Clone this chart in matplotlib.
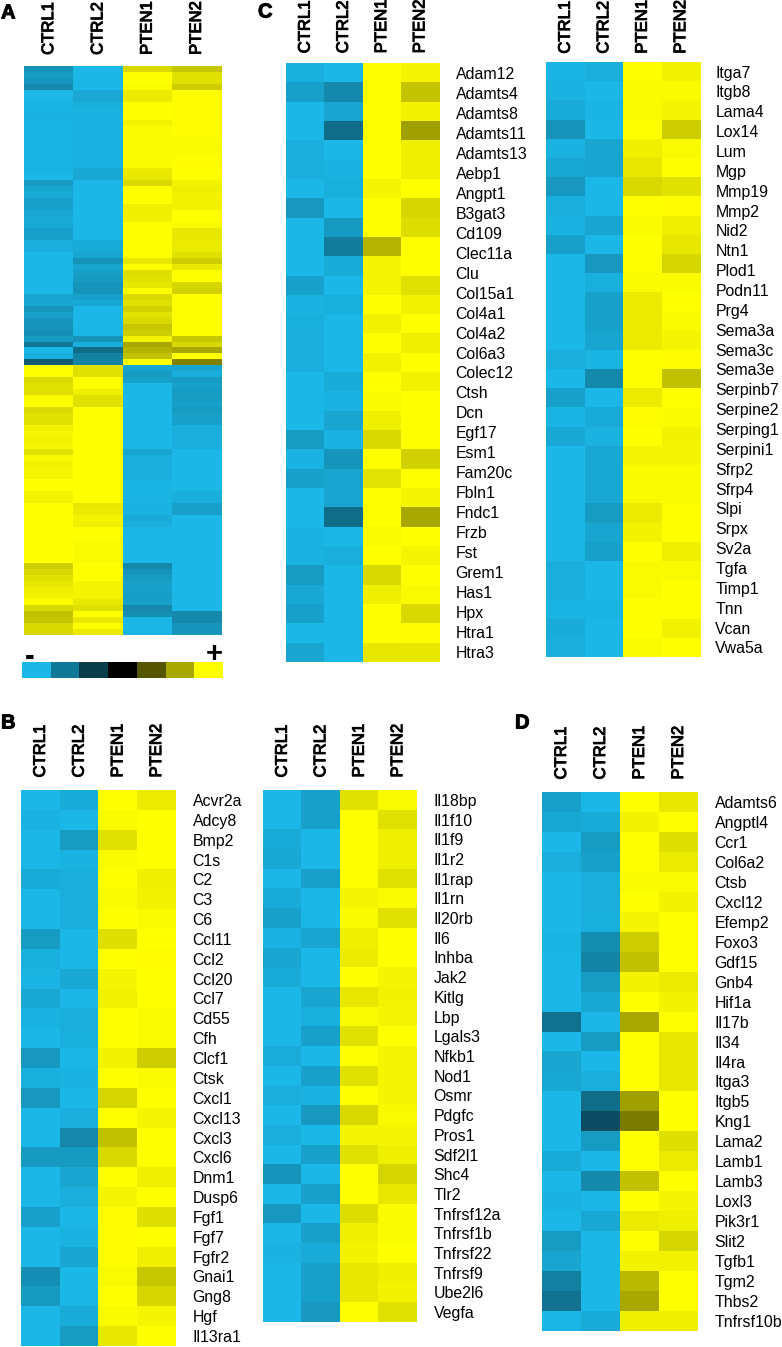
import numpy as np
import matplotlib
matplotlib.use('Agg')
import matplotlib.pyplot as plt
import matplotlib.patheffects as pe
from matplotlib.colors import LinearSegmentedColormap

plt.rcParams['font.family'] = ['Liberation Sans', 'DejaVu Sans']

samples = ['CTRL1', 'CTRL2', 'PTEN1', 'PTEN2']

# Panel A, colour strength per band, top to bottom. 50 first bands are up in PTEN, the rest are down
a_ctrl1 = [.8,.85,.82,.75,1,1,.98,.98,.97,.98,.98,.98,.98,.98,.98,.98,.98,.98,1,.85,.9,.93,.88,.88,.92,.93,.92,.87,.87,.95,.95,1,1,1,1,1,1,1,.9,.9,.82,.87,.82,.8,.78,.85,.65,1,.95,.5,
           1,1,.85,.88,.87,.98,1,.85,.88,.88,.95,.96,.94,.96,.88,.97,.95,.96,.96,1,1,.95,.95,1,1,1,1,1,1,1,1,1,1,.8,.85,.88,.9,.93,.95,1,.85,.75,.78,.85,.85]
a_ctrl2 = [1,1,1,1,.92,.92,.96,.97,.97,.97,.97,.97,.97,.97,.97,.97,.97,.92,.92,1,1,1,1,1,1,1,1,1,1,.93,.93,.9,.8,.9,.86,.85,.82,.8,.88,.92,1,1,1,1,1,.8,.95,.6,.7,.72,
           .87,.88,1,1,.93,.88,.88,1,1,1,1,1,1,1,1,1,1,1,1,1,1,1,1,.9,.92,.95,.93,1,1,.98,.97,.97,.97,1,1,1,.96,.96,.95,.9,.88,1,.9,1,.92]
a_pten1 = [.85,1,1,.98,.92,.92,1,1,1,.95,.98,.98,.98,.98,.98,.98,.98,.92,.9,.85,1,1,1,.93,.93,.94,1,1,1,1,1,1,.9,1,.86,.88,.9,1,.85,.88,.82,.88,.85,.78,.8,.95,.65,.7,.75,1,
           .9,.85,.88,1,1,1,1,1,1,1,1,1,1,1,.9,.96,.95,.95,.95,.98,.98,.98,.98,.97,.97,.93,.95,1,1,1,1,1,1,.75,.82,.85,.88,.88,.86,.88,.75,.78,1,1,1]
a_pten2 = [.78,.88,.88,.8,.99,.99,.99,.99,.99,.99,.99,.99,.98,.97,.98,.99,.99,1,1,.95,.93,.95,.94,.94,1,1,.97,.9,.9,.92,.92,.88,.8,.9,1,1,.84,.82,1,1,1,1,1,1,1,.78,.85,.65,1,.5,
           .9,.95,.85,.88,.85,.85,.88,.85,.88,.88,.95,.95,.95,.95,1,1,1,1,1,1,1,.96,.96,.87,.87,1,1,1,1,1,1,1,1,1,1,1,1,1,1,1,1,.75,.75,.82,.82]
a_n_up = 50

legend_steps = [-1, -.66, -.33, 0, .33, .66, 1]

# Panel C, left block (31 rows for 30 names)
c1_genes = ['Adam12','Adamts4','Adamts8','Adamts11','Adamts13','Aebp1','Angpt1','B3gat3','Cd109','Clec11a','Clu','Col15a1','Col4a1','Col4a2','Col6a3','Colec12','Ctsh','Dcn','Egf17','Esm1','Fam20c','Fbln1','Fndc1','Frzb','Fst','Grem1','Has1','Hpx','Htra1','Htra3']
c1_vals = [[.96,1,1,.96],[.88,.75,1,.76],[1,.9,1,.95],[1,.6,1,.62],[.95,1,1,.93],[.95,.97,1,.93],[1,.96,.96,1],[.83,1,1,.84],[1,.84,1,.86],[1,.68,.7,1],
           [1,.93,.96,1],[.88,1,.96,.88],[.97,.96,1,.94],[.96,1,.94,1],[.95,1,1,.93],[.95,1,.94,1],[1,.93,1,.94],[1,.97,.98,1],[1,.9,.93,1],[.85,.97,.85,1],
           [.97,.82,1,.82],[.88,.9,.89,1],[1,.9,1,.96],[1,.6,1,.66],[.97,1,.97,1],[.97,.95,1,.96],[.85,1,.85,1],[.92,1,.93,.97],[.87,1,1,.85],[1,1,1,.99],[.9,1,.9,.9]]

# Panel C, right block (31 rows for 30 names)
c2_genes = ['Itga7','Itgb8','Lama4','Lox14','Lum','Mgp','Mmp19','Mmp2','Nid2','Ntn1','Plod1','Podn11','Prg4','Sema3a','Sema3c','Sema3e','Serpinb7','Serpine2','Serping1','Serpini1','Sfrp2','Sfrp4','Slpi','Srpx','Sv2a','Tgfa','Timp1','Tnn','Vcan','Vwa5a']
c2_vals = [[.99,.95,1,.95],[.97,1,.98,.98],[.93,.99,.98,.96],[.8,1,1,.8],[.97,.9,.93,.97],[.92,.9,.9,1],[.83,1,.85,.88],[.95,1,1,.99],[.97,.9,.98,.93],[.88,1,1,.9],
           [1,.83,1,.83],[1,.96,.98,.98],[1,.88,.92,1],[1,.88,.92,.98],[1,.9,.92,.96],[.95,.98,1,.99],[1,.75,1,.75],[.88,1,.92,1],[.98,.93,.99,.98],[.92,.97,1,.95],
           [1,.92,.96,.96],[1,.92,.98,.98],[1,.92,.98,.98],[1,.85,.92,1],[1,.9,.95,1],[1,.88,1,.93],[.95,1,.97,.97],[.95,1,.97,1],[.98,.98,1,1],[.93,1,1,.94],[.95,1,.97,1]]

# Panel B, left block
b1_genes = ['Acvr2a','Adcy8','Bmp2','C1s','C2','C3','C6','Ccl11','Ccl2','Ccl20','Ccl7','Cd55','Cfh','Clcf1','Ctsk','Cxcl1','Cxcl13','Cxcl3','Cxcl6','Dnm1','Dusp6','Fgf1','Fgf7','Fgfr2','Gnai1','Gng8','Hgf','Il13ra1']
b1_vals = [[1,.93,1,.92],[.97,1,.98,1],[1,.85,.88,1],[1,.97,.98,1],[.93,.95,1,.93],[1,.95,.98,.95],[1,.95,1,.98],[.85,1,.87,1],[.96,1,1,.99],[.98,.92,.96,1],
           [.92,1,.94,1],[.97,.95,1,.97],[1,.96,1,.97],[.83,1,.95,.8],[.96,.97,1,.98],[.83,1,.83,1],[1,.95,1,.96],[1,.74,.75,1],[.84,.84,.85,1],[1,.9,1,.93],
           [1,.95,.96,1],[.88,1,.99,.87],[1,.97,.99,1],[1,.9,.99,.93],[.78,1,.97,.78],[.84,1,1,.83],[1,.93,.98,.96],[1,.85,.9,1]]

# Panel B, right block
b2_genes = ['Il18bp','Il1f10','Il1f9','Il1r2','Il1rap','Il1rn','Il20rb','Il6','Inhba','Jak2','Kitlg','Lbp','Lgals3','Nfkb1','Nod1','Osmr','Pdgfc','Pros1','Sdf2l1','Shc4','Tlr2','Tnfrsf12a','Tnfrsf1b','Tnfrsf22','Tnfrsf9','Ube2l6','Vegfa']
b2_vals = [[1,.87,.88,.97],[1,.87,1,.88],[.93,1,1,.93],[.92,1,1,.93],[1,.87,1,.88],[.93,1,.96,.97],[.88,1,.98,.88],[.97,.9,.93,1],[.9,1,.92,1],[.93,1,1,.96],
           [1,.9,.9,.95],[1,.96,.97,.96],[1,.87,.88,1],[.94,1,1,.96],[1,.87,.88,.96],[.95,.97,1,.96],[1,.83,.85,.97],[.95,1,.96,.96],[1,.87,.88,.93],[.82,1,1,.83],
           [1,.87,1,.9],[.83,1,.86,.98],[1,.88,.93,.98],[.97,.93,.95,1],[1,.87,.9,.93],[1,.87,.9,.95],[1,.83,1,.88]]

# Panel D
d_genes = ['Adamts6','Angptl4','Ccr1','Col6a2','Ctsb','Cxcl12','Efemp2','Foxo3','Gdf15','Gnb4','Hif1a','Il17b','Il34','Il4ra','Itga3','Itgb5','Kng1','Lama2','Lamb1','Lamb3','Loxl3','Pik3r1','Slit2','Tgfb1','Tgm2','Thbs2','Tnfrsf10b']
d_vals = [[.88,1,1,.9],[.92,.93,.95,1],[1,.85,1,.87],[.95,.88,1,.92],[1,.95,.98,.98],[1,.95,1,.95],[1,.96,.96,1],[.98,.77,.8,1],[1,.72,.75,1],[1,.85,.95,.92],
          [1,.92,1,.95],[.62,1,.65,1],[1,.85,1,.9],[.9,1,1,.9],[.92,.95,1,.9],[1,.6,.62,1],[1,.42,.48,1],[1,.85,1,.87],[.93,1,1,.92],[1,.75,.75,1],
          [.97,1,1,.96],[1,.92,.92,.93],[.85,1,1,.83],[.9,1,.94,.94],[.7,1,.72,1],[.63,1,.65,1],[1,.93,.93,.93]]

W, H = 782, 1347
fig = plt.figure(figsize=(W / 100, H / 100), dpi=100, facecolor='white')

# blue - black - yellow like the key under panel A
cmap = LinearSegmentedColormap.from_list('heat', ['#1bb7e6', '#000000', '#ffff00'])
thick = [pe.withStroke(linewidth=0.7, foreground='black')]


def add_axes_px(x0, y0, x1, y1):
    # pixel box of the reference, y going down
    return fig.add_axes([x0 / W, 1 - y1 / H, (x1 - x0) / W, (y1 - y0) / H])


def heatmap(box, values, genes=None, gene_pad=12, head_pad=7):
    ax = add_axes_px(*box)
    ax.imshow(values, cmap=cmap, vmin=-1, vmax=1, aspect='auto', interpolation='nearest')
    for s in ax.spines.values():
        s.set_visible(False)
    ax.set_xticks(range(4))
    ax.set_xticklabels(samples, rotation=90, fontsize=12, path_effects=thick)
    ax.xaxis.tick_top()
    ax.tick_params(axis='x', length=0, pad=head_pad)
    if genes is None:
        ax.set_yticks([])
    else:
        # names are spread evenly over the block, some blocks have one row more than names
        ax.yaxis.tick_right()
        ax.set_yticks(np.linspace(0, len(values) - 1, len(genes)))
        ax.set_yticklabels(genes, fontsize=11.4)
        ax.tick_params(axis='y', length=0, pad=gene_pad)
    return ax


def signed(vals):
    # CTRL columns blue, PTEN columns yellow
    m = np.array(vals)
    return np.hstack([-m[:, :2], m[:, 2:]])


# Panel A
sign_up = np.array([-1] * a_n_up + [1] * (len(a_ctrl1) - a_n_up))
a_vals = np.column_stack([sign_up * np.array(a_ctrl1), sign_up * np.array(a_ctrl2),
                          -sign_up * np.array(a_pten1), -sign_up * np.array(a_pten2)])
heatmap((24, 66, 221, 635), a_vals, head_pad=8)

# colour key
ax_key = add_axes_px(22, 662, 223, 678)
ax_key.imshow([legend_steps], cmap=cmap, vmin=-1, vmax=1, aspect='auto', interpolation='nearest')
ax_key.axis('off')
fig.text(30 / W, 1 - 657 / H, '-', fontsize=21, fontweight='bold', ha='center', va='center')
fig.text(214 / W, 1 - 654 / H, '+', fontsize=21, fontweight='bold', ha='center', va='center')

# Panels C, B, D
heatmap((286, 63, 439, 662), signed(c1_vals), c1_genes, gene_pad=12, head_pad=7)
heatmap((546, 62, 700, 657), signed(c2_vals), c2_genes, gene_pad=11, head_pad=6)
heatmap((21, 790, 176, 1346), signed(b1_vals), b1_genes, gene_pad=12, head_pad=9)
heatmap((263, 790, 417, 1322), signed(b2_vals), b2_genes, gene_pad=12, head_pad=9)
heatmap((542, 792, 698, 1331), signed(d_vals), d_genes, gene_pad=12, head_pad=9)

# panel letters
letters = ['A', 'B', 'C', 'D']
letter_x = [1, 1, 258, 515]
letter_y = [13, 723, 12, 723]
for t, lx, ly in zip(letters, letter_x, letter_y):
    fig.text(lx / W, 1 - ly / H, t, fontsize=14.5, fontweight='bold', ha='left', va='center', path_effects=thick)

fig.savefig('out.png', dpi=100)
